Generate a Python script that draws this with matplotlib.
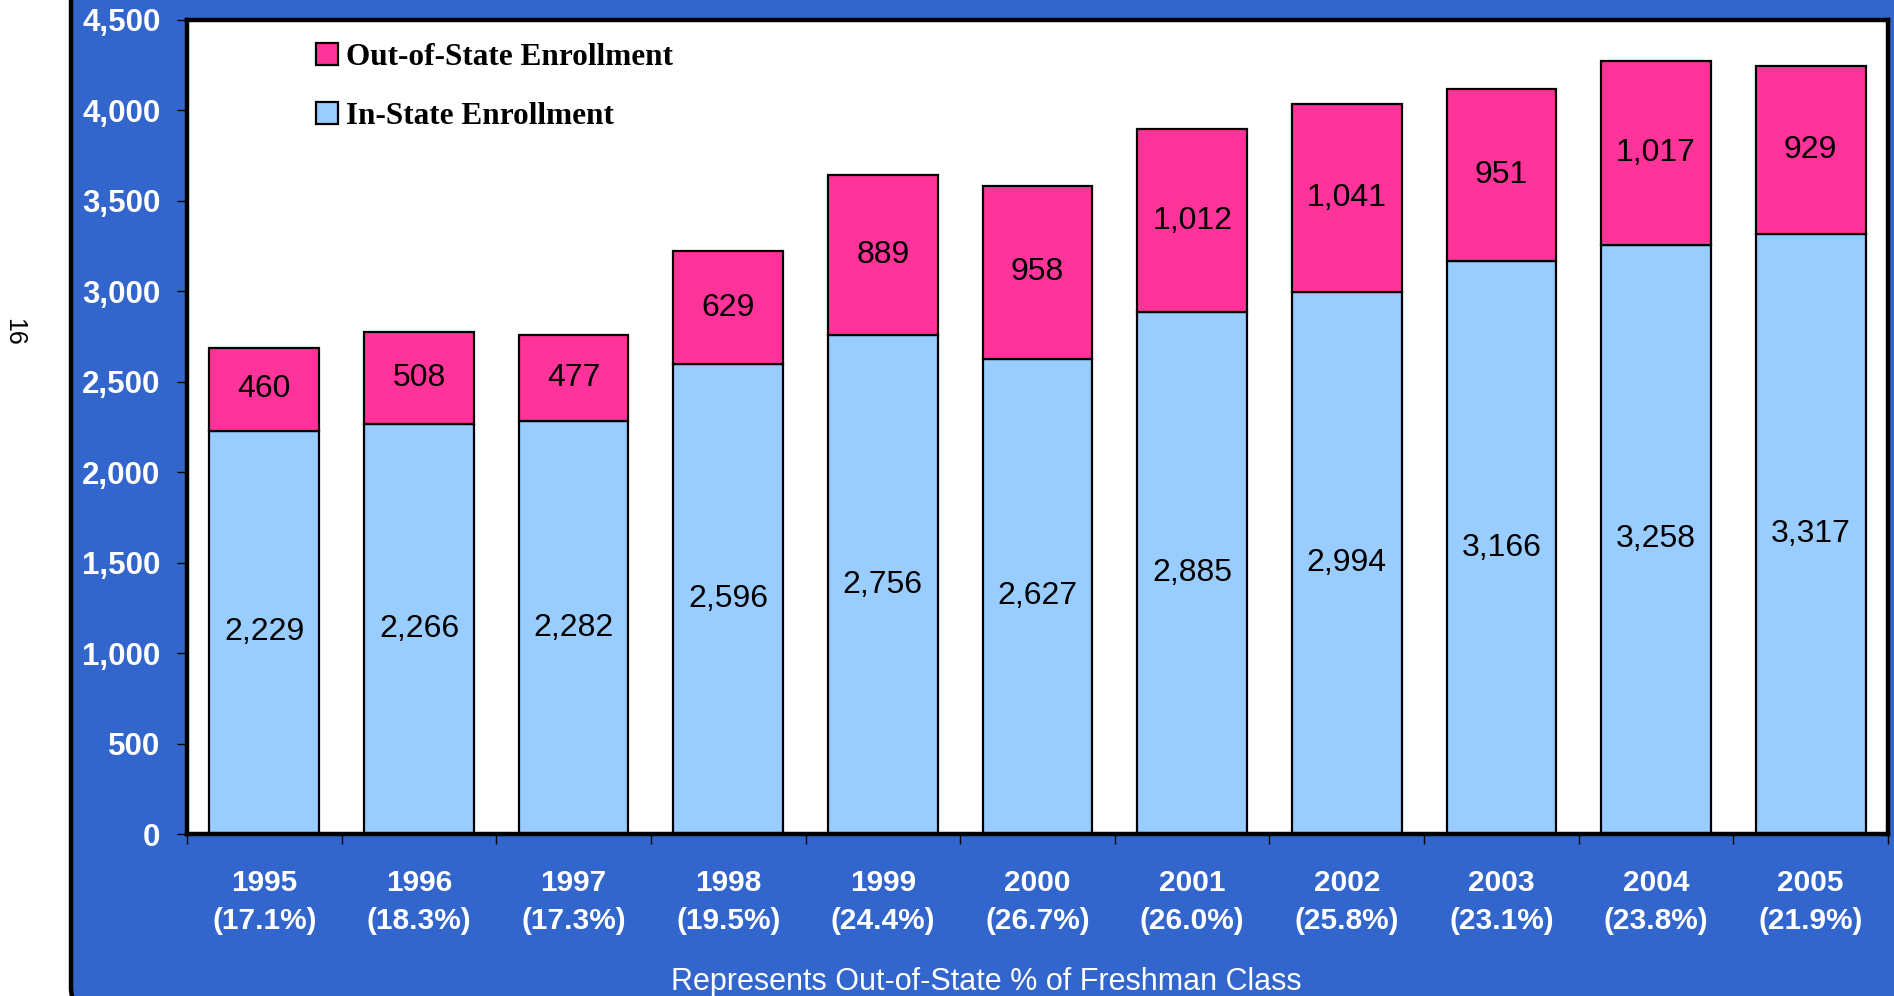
import matplotlib.pyplot as plt
from matplotlib.patches import FancyBboxPatch, Patch

# Данные
years = ["1995", "1996", "1997", "1998", "1999", "2000", "2001", "2002", "2003", "2004", "2005"]
out_pct = ["17.1%", "18.3%", "17.3%", "19.5%", "24.4%", "26.7%", "26.0%", "25.8%", "23.1%", "23.8%", "21.9%"]
in_state = [2229, 2266, 2282, 2596, 2756, 2627, 2885, 2994, 3166, 3258, 3317]
out_state = [460, 508, 477, 629, 889, 958, 1012, 1041, 951, 1017, 929]

BLUE_BG = "#3366CC"
PINK = "#FF3399"
LIGHT = "#99CCFF"

W, H = 1894, 996
fig = plt.figure(figsize=(W / 100, H / 100), dpi=100, facecolor="white")

# синяя подложка со скруглённым углом (низ уходит за край)
bg = fig.add_axes([0, 0, 1, 1], zorder=0)
bg.set_xlim(0, W)
bg.set_ylim(H, 0)
bg.axis("off")
bg.add_patch(FancyBboxPatch((71, -60), 1950, 1070, boxstyle="round,pad=0,rounding_size=22",
                            facecolor=BLUE_BG, edgecolor="black", linewidth=3.2))

# номер страницы
fig.text(14 / W, 1 - 332 / H, "16", rotation=-90, fontsize=18, family="Liberation Sans",
         ha="center", va="center", color="black")

# основной график
left, right, top, bottom = 187, 1888, 20, 834
ax = fig.add_axes([left / W, 1 - bottom / H, (right - left) / W, (bottom - top) / H], zorder=1)
ax.set_facecolor("white")

x = list(range(len(years)))
ax.bar(x, in_state, width=0.71, color=LIGHT, edgecolor="black", linewidth=1.6, zorder=2)
ax.bar(x, out_state, width=0.71, bottom=in_state, color=PINK, edgecolor="black", linewidth=1.6, zorder=2)

for i in x:
    ax.text(i, in_state[i] / 2, f"{in_state[i]:,}", ha="center", va="center",
            fontsize=23, family="Liberation Sans", color="black", zorder=3)
    ax.text(i, in_state[i] + out_state[i] / 2, f"{out_state[i]:,}", ha="center", va="center",
            fontsize=23, family="Liberation Sans", color="black", zorder=3)

ax.set_xlim(-0.5, len(years) - 0.5)
ax.set_ylim(0, 4500)
ax.set_yticks(range(0, 4501, 500))
ax.set_yticklabels([f"{v:,}" for v in range(0, 4501, 500)])

ax.set_xticks(x)
ax.set_xticklabels([f"{y}\n({p})" for y, p in zip(years, out_pct)])
ax.set_xticks([i - 0.5 for i in range(len(years) + 1)], minor=True)

for s in ax.spines.values():
    s.set_linewidth(3.2)
    s.set_color("black")
    s.set_zorder(4)

ax.tick_params(axis="y", direction="out", length=7, width=1, color="black", pad=12,
               labelcolor="white", labelsize=22.5)
ax.tick_params(axis="x", which="major", length=0, pad=25, labelcolor="white", labelsize=21.5)
ax.tick_params(axis="x", which="minor", direction="out", length=7, width=1, color="black")
for lbl in ax.get_yticklabels() + ax.get_xticklabels():
    lbl.set_fontfamily("Liberation Sans")
    lbl.set_fontweight("bold")
for lbl in ax.get_xticklabels():
    lbl.set_linespacing(1.45)

ax.set_xlabel("Represents Out-of-State % of Freshman Class", fontsize=22,
              family="Liberation Sans", color="white", labelpad=22)
ax.xaxis.set_label_coords(0.47, -0.163)

# легенда
handles = [Patch(facecolor=PINK, edgecolor="black", linewidth=1.6),
           Patch(facecolor=LIGHT, edgecolor="black", linewidth=1.6)]
leg = ax.legend(handles, ["Out-of-State Enrollment", "In-State Enrollment"],
                loc="upper left", bbox_to_anchor=(316 / W, 1 - 43 / H),
                bbox_transform=fig.transFigure, frameon=False, borderpad=0, borderaxespad=0,
                handlelength=0.7, handleheight=0.7, handletextpad=0.25, labelspacing=0.95,
                prop={"family": "Liberation Serif", "weight": "bold", "size": 22.5})

plt.savefig("out.png", dpi=100, facecolor=fig.get_facecolor())
plt.close()
